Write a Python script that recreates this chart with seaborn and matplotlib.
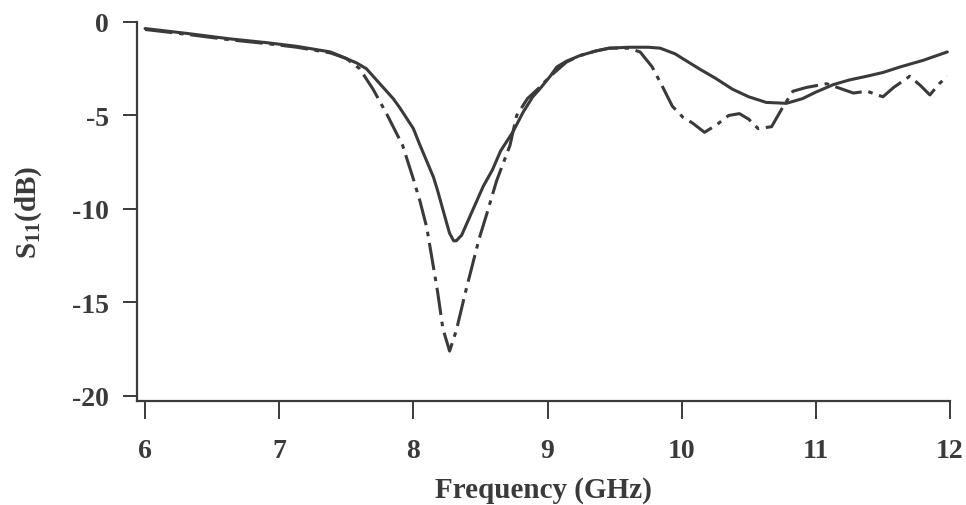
import matplotlib
matplotlib.use("Agg")
import matplotlib.pyplot as plt
import numpy as np
import pandas as pd
import seaborn as sns

# solid curve
freq_solid = [6.0, 6.3, 6.63, 6.9, 7.13, 7.38, 7.45, 7.58, 7.65, 7.75, 7.85, 7.9,
              8.0, 8.05, 8.15, 8.18, 8.25, 8.27, 8.3, 8.32, 8.36, 8.44, 8.52, 8.59,
              8.65, 8.74, 8.82, 8.89, 8.94, 9.02, 9.07, 9.14, 9.24, 9.36, 9.46, 9.6,
              9.75, 9.84, 9.95, 10.13, 10.25, 10.38, 10.5, 10.63, 10.78, 10.9, 11.0,
              11.13, 11.25, 11.38, 11.5, 11.63, 11.8, 11.98]
s11_solid = [-0.35, -0.6, -0.9, -1.1, -1.3, -1.6, -1.8, -2.2, -2.5, -3.3, -4.1, -4.6,
             -5.7, -6.6, -8.3, -9.0, -10.8, -11.3, -11.7, -11.7, -11.4, -10.1, -8.8, -7.9,
             -6.9, -5.9, -4.8, -4.0, -3.6, -2.9, -2.4, -2.1, -1.8, -1.55, -1.4, -1.35,
             -1.35, -1.4, -1.7, -2.5, -3.0, -3.6, -4.0, -4.3, -4.35, -4.1, -3.75,
             -3.35, -3.1, -2.9, -2.7, -2.4, -2.05, -1.6]

# dash-dot curve
freq_dash = [6.0, 6.3, 6.63, 6.9, 7.13, 7.38, 7.5, 7.6, 7.7, 7.8, 7.92, 8.0, 8.05,
             8.1, 8.18, 8.22, 8.27, 8.32, 8.39, 8.49, 8.55, 8.62, 8.72, 8.77, 8.85,
             8.94, 9.02, 9.14, 9.24, 9.36, 9.46, 9.6, 9.69, 9.78, 9.86, 9.93, 10.01,
             10.08, 10.17, 10.26, 10.35, 10.43, 10.5, 10.57, 10.67, 10.75, 10.83,
             10.93, 11.08, 11.2, 11.28, 11.38, 11.5, 11.58, 11.7, 11.78, 11.85, 11.92, 11.98]
s11_dash = [-0.4, -0.65, -0.95, -1.15, -1.35, -1.65, -1.95, -2.5, -3.6, -4.9, -6.6, -8.4, -9.6,
            -11.0, -14.4, -16.4, -17.6, -16.5, -14.4, -11.6, -10.2, -8.5, -6.6, -5.0, -4.1,
            -3.5, -2.9, -2.15, -1.8, -1.55, -1.4, -1.4, -1.6, -2.4, -3.5, -4.5, -5.1,
            -5.4, -5.9, -5.5, -5.0, -4.9, -5.2, -5.7, -5.6, -4.6, -3.7,
            -3.5, -3.3, -3.6, -3.8, -3.7, -4.0, -3.5, -2.9, -3.4, -3.9, -3.3, -2.9]

solid = pd.DataFrame({"freq": freq_solid, "s11": s11_solid})
dash = pd.DataFrame({"freq": freq_dash, "s11": s11_dash})

sns.set_style("ticks")
plt.rcParams["font.family"] = ["Liberation Serif", "DejaVu Serif"]
plt.rcParams["font.weight"] = "bold"
plt.rcParams["axes.unicode_minus"] = False
plt.rcParams["mathtext.fontset"] = "custom"
plt.rcParams["mathtext.rm"] = "Liberation Serif:bold"
plt.rcParams["mathtext.bf"] = "Liberation Serif:bold"

ink = "#3a3a3a"
fig = plt.figure(figsize=(9.66, 5.06), dpi=100)
ax = fig.add_axes([137 / 966, 1 - 402 / 506, 813 / 966, 379 / 506])

sns.lineplot(data=solid, x="freq", y="s11", ax=ax, sort=False,
             color=ink, linewidth=2.2)
sns.lineplot(data=dash, x="freq", y="s11", ax=ax, sort=False,
             color=ink, linewidth=2.2, linestyle=(0, (9, 2.2, 1.5, 2.2)))

ax.set_xlim(5.94, 12.0)
ax.set_ylim(-20.27, 0)
ax.set_xticks(range(6, 13))
ax.set_yticks([0, -5, -10, -15, -20])
ax.tick_params(axis="x", length=13, width=1.4, pad=14, labelsize=20, colors=ink)
ax.tick_params(axis="y", length=10, width=1.4, pad=10, labelsize=20, colors=ink)
for lab in ax.get_xticklabels() + ax.get_yticklabels():
    lab.set_fontweight("bold")

sns.despine(ax=ax)
for side in ("left", "bottom"):
    ax.spines[side].set_linewidth(1.6)
    ax.spines[side].set_color(ink)

ax.set_xlabel("Frequency (GHz)", fontsize=21, fontweight="bold", color=ink, labelpad=9)
ax.set_ylabel(r"S$_{\mathbf{11}}$(dB)", fontsize=21, fontweight="bold", color=ink, labelpad=20)

fig.savefig("out.png", dpi=100)
